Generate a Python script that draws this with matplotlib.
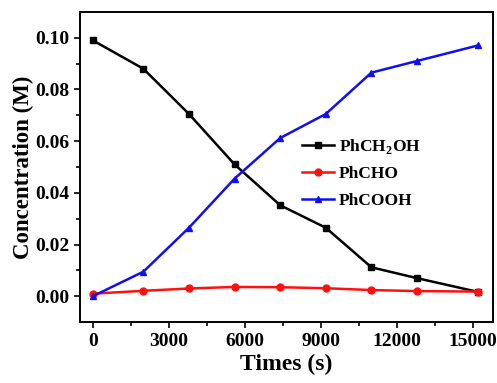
from matplotlib import pyplot as plt
import numpy as np

times = [0, 2000, 3800, 5600, 7400, 9200, 11000, 12800, 15200]
phch2oh = [0.099, 0.088, 0.0705, 0.051, 0.0352, 0.0265, 0.0112, 0.0070, 0.0017]
phcho = [0.0010, 0.0021, 0.0030, 0.0036, 0.0035, 0.0031, 0.0024, 0.0020, 0.0018]
phcooh = [0.0000, 0.0095, 0.0265, 0.0455, 0.0612, 0.0705, 0.0865, 0.0910, 0.0970]

plt.rcParams['font.family'] = 'Liberation Serif'
plt.rcParams['font.weight'] = 'bold'
plt.rcParams['mathtext.fontset'] = 'custom'
plt.rcParams['mathtext.bf'] = 'Liberation Serif:bold'

fig = plt.figure(figsize=(4.97, 3.83), dpi=100)
ax = fig.add_axes([0.161, 0.159, 0.831, 0.81])

ax.plot(times, phch2oh, '-s', color='black', lw=1.8, ms=4.5, label='PhCH$_\\mathbf{2}$OH')
ax.plot(times, phcho, '-o', color='#ff1010', lw=1.8, ms=5, label='PhCHO')
ax.plot(times, phcooh, '-^', color='#1010ee', lw=1.8, ms=5, label='PhCOOH')

ax.set_xlim(-500, 15800)
ax.set_ylim(-0.01, 0.11)
ax.set_xticks(np.arange(0, 15001, 3000))
ax.set_xticks(np.arange(1500, 15001, 3000), minor=True)
ax.set_yticks(np.arange(0, 0.101, 0.02))
ax.set_yticks(np.arange(0.01, 0.101, 0.02), minor=True)
ax.yaxis.set_major_formatter(plt.FormatStrFormatter('%.2f'))
ax.tick_params(which='major', direction='out', length=4.5, width=1.2, labelsize=14, pad=3)
ax.tick_params(which='minor', direction='out', length=3, width=1.2)
for s in ax.spines.values():
    s.set_linewidth(1.4)

ax.set_xlabel('Times (s)', fontsize=17, fontweight='bold', labelpad=3)
ax.set_ylabel('Concentration (M)', fontsize=16.5, fontweight='bold', labelpad=1)

ax.legend(loc='upper left', bbox_to_anchor=(0.537, 0.597), frameon=False, fontsize=12.5,
          handlelength=1.85, handletextpad=0.3, labelspacing=0.6,
          borderpad=0, borderaxespad=0)

fig.savefig('out.png', dpi=100)
